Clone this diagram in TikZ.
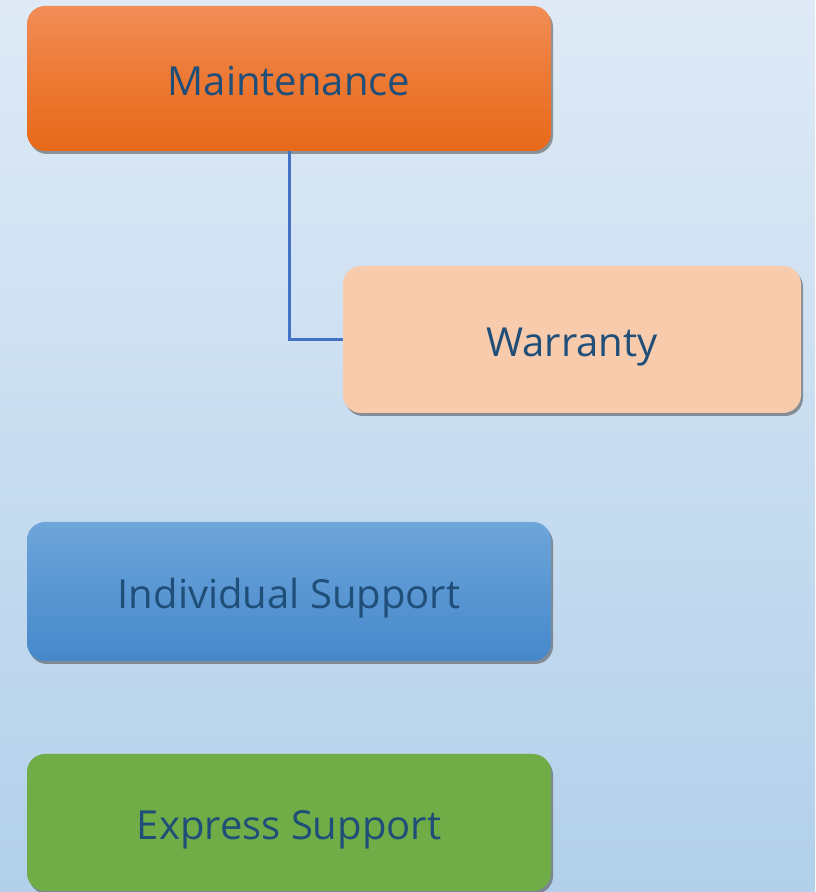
\documentclass[tikz,border=0pt]{standalone}
\usepackage{fontspec}
\setmainfont{Open Sans}
\usetikzlibrary{shadows}
\definecolor{bgTop}{RGB}{223,234,246}
\definecolor{bgBottom}{RGB}{178,208,234}
\definecolor{textBlue}{RGB}{31,78,121}
\definecolor{lineBlue}{RGB}{68,114,196}
\definecolor{orangeTop}{RGB}{242,142,88}
\definecolor{orangeBottom}{RGB}{232,106,26}
\definecolor{peach}{RGB}{248,203,173}
\definecolor{blueTop}{RGB}{110,165,218}
\definecolor{blueBottom}{RGB}{69,136,203}
\definecolor{green}{RGB}{112,173,71}

\begin{document}
\begin{tikzpicture}
[x=1pt,y=1pt,
  boxDecorate/.style={shape=rectangle,rounded corners=18pt,inner sep=0pt,
    text=textBlue,font=\fontsize{40}{48}\selectfont,
    text height=40pt,text depth=6pt,
    drop shadow={shadow xshift=2pt,shadow yshift=-3pt,opacity=0.55,fill=black!70}},
  lineDecorate/.style={-,draw=lineBlue,line width=3pt}]
%% background
\fill[top color=bgTop,bottom color=bgBottom] (0,0) rectangle (815,892);
\useasboundingbox (0,0) rectangle (815,892);
%% boxes
\node (maintenance) at (289,813.5) [boxDecorate,minimum width=524pt,minimum height=145pt,
  top color=orangeTop,bottom color=orangeBottom,middle color=orangeTop!40!orangeBottom] {Maintenance};
\node (warranty) at (572,552.5) [boxDecorate,minimum width=458pt,minimum height=147pt,
  fill=peach] {Warranty};
\node (individual) at (289,300.5) [boxDecorate,minimum width=524pt,minimum height=139pt,
  top color=blueTop,bottom color=blueBottom] {Individual Support};
\node (express) at (289,69.5) [boxDecorate,minimum width=524pt,minimum height=137pt,
  fill=green] {Express Support};
%% connector
\draw[lineDecorate] (maintenance.south) |- (warranty.west);
\end{tikzpicture}
\end{document}
